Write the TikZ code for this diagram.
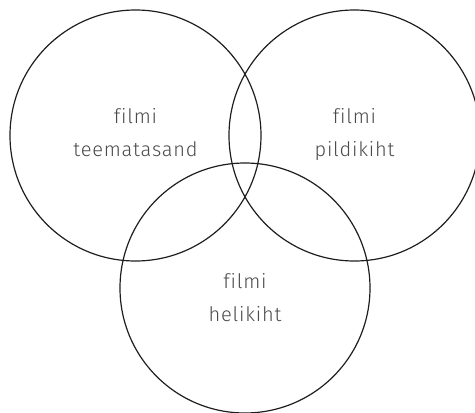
\documentclass[tikz,border=0pt]{standalone}
\usepackage{fontspec}
\setmainfont{Fira Sans}[UprightFont=* Light,Ligatures=NoCommon,LetterSpace=4]
\definecolor{txt}{HTML}{4A4A4A}
\definecolor{ln}{HTML}{1E1E1E}
\begin{document}
\begin{tikzpicture}[x=1pt,y=-1pt,
  ring/.style={draw=ln,line width=1.2pt},
  lbl/.style={text=txt,font=\fontsize{20}{24}\selectfont,anchor=base,inner sep=0pt}]
\useasboundingbox (0,0) rectangle (475,413);
\clip (0,0) rectangle (475,413);
\draw[ring] (135.5,135.5) circle[radius=125.5];
\draw[ring] (354.5,135.5) circle[radius=125.5];
\draw[ring] (245,288) circle[radius=125];
\node[lbl] (a1) at (135.5,123) {filmi};
\node[lbl] (a2) at (135.5,156) {teematasand};
\node[lbl] (b1) at (354.5,123) {filmi};
\node[lbl] (b2) at (354.5,156) {pildikiht};
\node[lbl] (c1) at (245,288) {filmi};
\node[lbl] (c2) at (245,321) {helikiht};
\end{tikzpicture}
\end{document}
